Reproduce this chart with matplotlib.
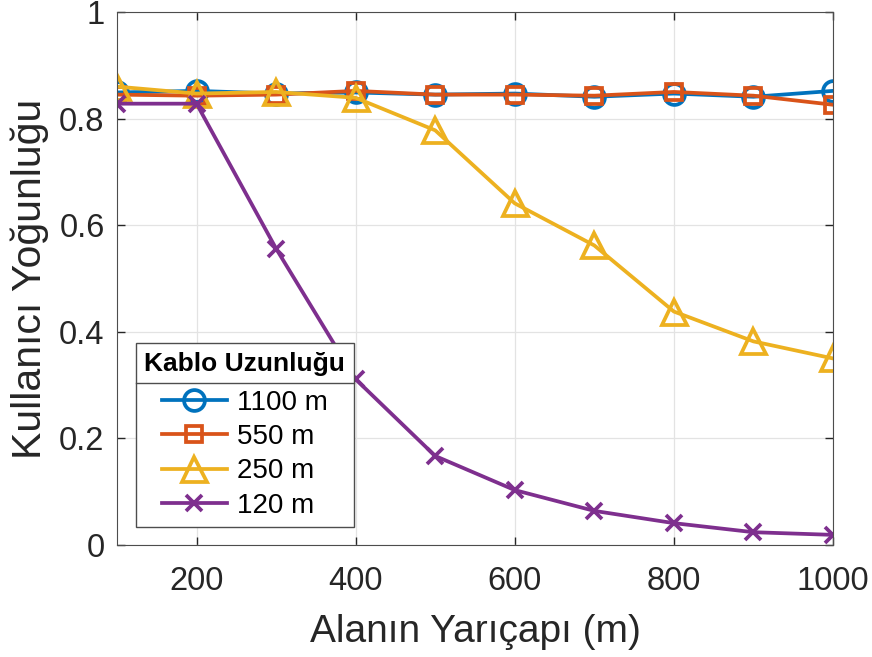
import numpy as np
import matplotlib
matplotlib.use('Agg')
import matplotlib.pyplot as plt
from matplotlib.lines import Line2D

plt.rcParams['font.family'] = ['Liberation Sans', 'DejaVu Sans']

radius = [100, 200, 300, 400, 500, 600, 700, 800, 900, 1000]
y_1100 = [0.849, 0.852, 0.847, 0.849, 0.845, 0.847, 0.841, 0.847, 0.841, 0.852]
y_550 = [0.845, 0.843, 0.845, 0.852, 0.845, 0.845, 0.843, 0.850, 0.843, 0.826]
y_250 = [0.860, 0.847, 0.850, 0.839, 0.778, 0.641, 0.562, 0.438, 0.382, 0.350]
y_120 = [0.828, 0.828, 0.556, 0.311, 0.167, 0.103, 0.064, 0.041, 0.024, 0.019]
labels = ['1100 m', '550 m', '250 m', '120 m']

colors = ['#0072BD', '#D95319', '#EDB120', '#7E2F8E']
markers = ['o', 's', '^', 'x']
sizes = [15, 12, 18, 11]

W, H = 872, 657
fig = plt.figure(figsize=(W/100, H/100), dpi=100)
ax = fig.add_axes([117/W, 1-545/H, 716/W, 533/H])

series = [y_1100, y_550, y_250, y_120]
for i in range(4):
    ax.plot(radius, series[i], color=colors[i], marker=markers[i], ms=sizes[i],
            mfc='none', mew=2.7, lw=2.7, label=labels[i])

ax.set_xlim(100, 1000)
ax.set_ylim(0, 1)
ax.set_xticks([200, 400, 600, 800, 1000])
ax.set_yticks([0, 0.2, 0.4, 0.6, 0.8, 1])
ax.set_yticklabels(['0', '0.2', '0.4', '0.6', '0.8', '1'])
ax.grid(True, color='#e3e3e3', lw=0.9)
ax.set_axisbelow(True)
ax.tick_params(direction='in', labelsize=23.5, colors='#262626', length=6, width=1,
               top=True, right=True, pad=9)
ax.tick_params(axis='x', pad=15)
for s in ax.spines.values():
    s.set_color('#4d4d4d')
ax.set_xlabel('Alanın Yarıçapı (m)', fontsize=28, color='#262626', labelpad=12)
ax.set_ylabel('Kullanıcı Yoğunluğu', fontsize=29.5, color='#262626', labelpad=7)

leg = ax.legend(loc='lower left', bbox_to_anchor=(19/716, 18/533), fontsize=20,
                title='Kablo Uzunluğu', title_fontproperties={'weight': 'bold', 'size': 19},
                frameon=True, fancybox=False, edgecolor='#4d4d4d', framealpha=1,
                handlelength=2.35, borderpad=0.3, labelspacing=0.3, handletextpad=0.35,
                borderaxespad=0)
leg.get_frame().set_linewidth(1.0)
leg._legend_box.sep = 10

# separator between the legend title and the entries
fig.canvas.draw()
lb = leg.get_frame().get_window_extent()
tb = leg.get_title().get_window_extent()
hb = leg._legend_handle_box.get_window_extent()
ysep = (tb.y0 + hb.y1) / 2 / H
fig.add_artist(Line2D([lb.x0 / W, lb.x1 / W], [ysep, ysep], transform=fig.transFigure,
                      color='#4d4d4d', lw=1.0))

fig.savefig('out.png', dpi=100)
